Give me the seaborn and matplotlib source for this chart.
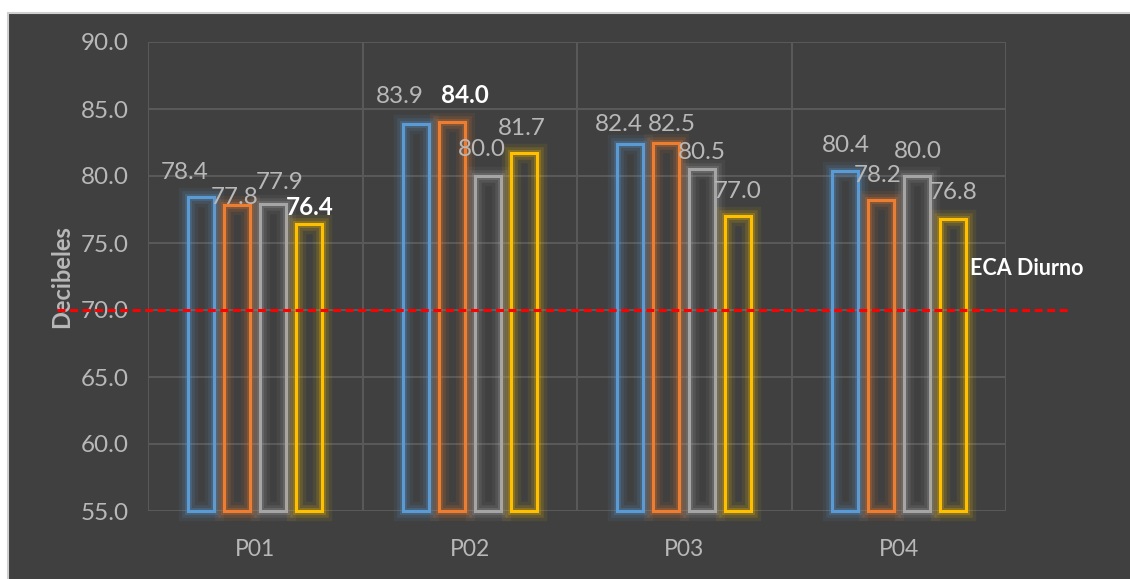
import matplotlib
matplotlib.use("Agg")
import matplotlib.pyplot as plt
import matplotlib.patheffects as pe
from matplotlib.patches import Rectangle
import seaborn as sns
import pandas as pd

# ---- data ----
points = ["P01", "P02", "P03", "P04"]
series = ["Serie 1", "Serie 2", "Serie 3", "Serie 4"]
serie_1 = [78.4, 83.9, 82.4, 80.4]
serie_2 = [77.8, 84.0, 82.5, 78.2]
serie_3 = [77.9, 80.0, 80.5, 80.0]
serie_4 = [76.4, 81.7, 77.0, 76.8]
eca_diurno = 70.0
y_ticks = [55, 60, 65, 70, 75, 80, 85, 90]

# ---- styling ----
colors = ["#5B9BD5", "#ED7D31", "#A5A5A5", "#FFC000"]
bg = "#404040"
grid_c = "#5a5a5a"
text_c = "#b8b8b8"
y_base = 55

# label offsets in pixels (dx, dy above bar top), per series then per point
label_offsets = [
    [(-17, 25), (-16, 27), (-11, 19), (1, 25)],
    [(-3, 8), (13, 27), (6, 18), (-3, 25)],
    [(6, 22), (-6, 26), (0, 17), (1, 25)],
    [(1, 17), (-2, 25), (0, 25), (1, 26)],
]
bold_values = {76.4, 84.0}

sns.set_style("dark")
plt.rcParams["font.family"] = ["Lato", "DejaVu Sans"]

values = [serie_1, serie_2, serie_3, serie_4]
df = pd.DataFrame(
    [(p, s, v) for s, vals in zip(series, values) for p, v in zip(points, vals)],
    columns=["point", "series", "value"],
)

fig = plt.figure(figsize=(11.3, 5.79), dpi=100, facecolor="white")
panel = Rectangle((8 / 1130, -0.01), 1.0, 1 - 13 / 579 + 0.01,
                  transform=fig.transFigure, facecolor=bg,
                  edgecolor="#cfcfcf", lw=1.5, zorder=-10)
fig.add_artist(panel)
ax = fig.add_axes([148 / 1130, 1 - 511 / 579, 858 / 1130, 469 / 579])
ax.set_zorder(5)
ax.set_facecolor("none")

sns.barplot(data=df, x="point", y="value", hue="series", palette=colors,
            order=points, hue_order=series, width=0.67, gap=0.28,
            fill=False, linewidth=2.2, errorbar=None, legend=False, ax=ax)

# bars rise from the axis floor, with a soft glow around each outline
for container, col, offs in zip(ax.containers, colors, label_offsets):
    for bar, (dx, dy) in zip(container.patches, offs):
        v = bar.get_height()
        bar.set_y(y_base)
        bar.set_height(v - y_base)
        bar.set_edgecolor(col)
        bar.set_facecolor("none")
        bar.set_clip_on(False)
        bar.set_zorder(3)
        bar.set_path_effects([
            pe.Stroke(linewidth=14, foreground=col, alpha=0.08),
            pe.Stroke(linewidth=9, foreground=col, alpha=0.14),
            pe.Stroke(linewidth=5, foreground=col, alpha=0.22),
            pe.Normal(),
        ])
        cx = bar.get_x() + bar.get_width() / 2
        bold = v in bold_values
        ax.annotate(f"{v:.1f}", xy=(cx, v), xytext=(dx, dy),
                    textcoords="offset pixels", ha="center", va="center",
                    fontsize=17.5, color="white" if bold else text_c,
                    fontweight="bold" if bold else "normal", zorder=6,
                    annotation_clip=False)

# reference limit
ax.axhline(eca_diurno, xmin=-0.106, xmax=1.072, color="#ff0000",
           ls=(0, (2.6, 1.5)), lw=2.2, clip_on=False, zorder=5)
ax.text(3.332, 73.1, "ECA Diurno", ha="left", va="center",
        fontsize=15.5, fontweight="bold", color="white", zorder=6)

ax.set_ylim(y_base, 90)
ax.set_xlim(-0.5, 3.5)
ax.set_yticks(y_ticks)
ax.set_yticklabels([f"{t:.1f}" for t in y_ticks])
ax.set_xticks(range(len(points)))
ax.set_xticklabels(points)
ax.set_xticks([-0.5, 0.5, 1.5, 2.5, 3.5], minor=True)
ax.yaxis.grid(True, color=grid_c, lw=1.4, zorder=0)
ax.xaxis.grid(True, which="minor", color=grid_c, lw=1.4, zorder=0)
ax.xaxis.grid(False, which="major")
ax.set_axisbelow(True)
ax.tick_params(axis="both", which="both", length=0, colors=text_c)
ax.tick_params(axis="y", labelsize=17.5, pad=14)
ax.tick_params(axis="x", labelsize=16.5, pad=20)
for s in ax.spines.values():
    s.set_visible(False)

ax.set_xlabel("")
ax.set_ylabel("Decibeles", fontsize=17, fontweight="bold", color=text_c)
ax.yaxis.set_label_coords(-0.087, 0.5)

fig.savefig("out.png", dpi=100, facecolor="white")
